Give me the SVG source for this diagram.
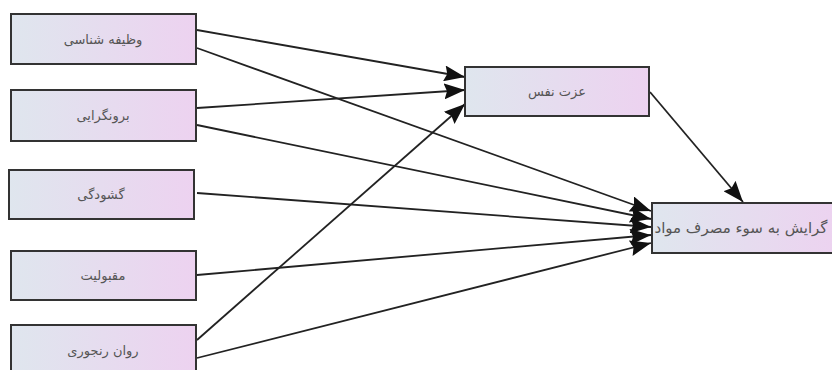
<svg xmlns="http://www.w3.org/2000/svg" width="832" height="370" viewBox="0 0 832 370">
<style>
.box{fill:url(#g);stroke:#333;stroke-width:2}
.t{font-family:"DejaVu Sans","Noto Sans",sans-serif;font-size:13px;fill:#555;text-anchor:middle;direction:rtl}
.c{stroke:#222;stroke-width:1.8;fill:none;marker-end:url(#ah)}
</style>
<defs>
<linearGradient id="g" x1="0" y1="0" x2="1" y2="0">
<stop offset="0" stop-color="#dfe6ee"/>
<stop offset="1" stop-color="#edd2f0"/>
</linearGradient>
<marker id="ah" markerUnits="userSpaceOnUse" markerWidth="22" markerHeight="16" refX="21" refY="8" orient="auto" viewBox="0 0 22 16">
<path d="M0,0 L21,8 L0,16 L3,8 z" fill="#111"/>
</marker>
</defs>
<g id="connectors">
<line class="c" x1="197" y1="30" x2="465" y2="77"/>
<line class="c" x1="197" y1="108" x2="465" y2="90"/>
<line class="c" x1="197" y1="340" x2="465" y2="104"/>
<line class="c" x1="197" y1="48" x2="651" y2="211"/>
<line class="c" x1="197" y1="125" x2="651" y2="219"/>
<line class="c" x1="197" y1="193" x2="651" y2="227"/>
<line class="c" x1="197" y1="275" x2="651" y2="235"/>
<line class="c" x1="197" y1="358" x2="651" y2="243"/>
<line class="c" x1="650" y1="92" x2="743" y2="202"/>
</g>
<g id="n1"><rect class="box" x="11" y="14" width="185" height="50"/><text class="t" x="103" y="44">وظیفه شناسی</text></g>
<g id="n2"><rect class="box" x="11" y="90" width="185" height="51"/><text class="t" x="103" y="120">برونگرایی</text></g>
<g id="n3"><rect class="box" x="9" y="170" width="185" height="49"/><text class="t" x="101" y="199">گشودگی</text></g>
<g id="n4"><rect class="box" x="11" y="251" width="185" height="49"/><text class="t" x="103" y="280">مقبولیت</text></g>
<g id="n5"><rect class="box" x="11" y="325" width="185" height="50"/><text class="t" x="103" y="355">روان رنجوری</text></g>
<g id="n6"><rect class="box" x="465" y="67" width="184" height="49"/><text class="t" x="557" y="96">عزت نفس</text></g>
<g id="n7"><rect class="box" x="652" y="203" width="190" height="50"/><text class="t" x="741" y="233" style="font-size:15px">گرایش به سوء مصرف مواد</text></g>
</svg>
